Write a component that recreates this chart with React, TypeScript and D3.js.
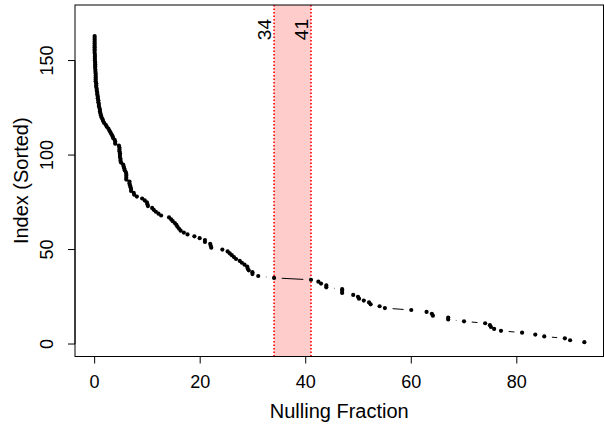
import React from "react";
import * as d3 from "d3";

// Nulling fraction (%) for each source, ordered by sorted index 1..N
const nullingFraction: number[] = [
  92.8, 90.1, 89.1, 85.2, 83.5, 81.0, 77.0, 75.7, 75.1, 74.9,
  74.0, 70.0, 67.0, 67.0, 64.1, 63.9, 62.9, 60.0, 55.0, 54.0,
  52.3, 52.0, 51.0, 50.1, 49.9, 49.0, 46.9, 46.9, 46.9, 43.9,
  43.9, 42.9, 42.4, 41.0, 34.0, 31.0, 29.9, 29.9, 29.2, 29.0,
  28.9, 28.4, 27.9, 27.5, 26.8, 26.4, 26.0, 25.6, 25.2, 24.2,
  22.1, 22.0, 21.9, 20.9, 20.9, 19.9, 18.9, 17.6, 16.9, 16.3,
  16.0, 15.7, 15.5, 15.2, 14.8, 14.5, 14.1, 12.6, 12.1, 11.6,
  11.2, 10.9, 10.1, 10.0, 9.9, 9.5, 9.0, 8.0, 7.5, 7.4,
  6.9, 6.9, 6.8, 6.7, 6.6, 6.6, 6.0, 6.0, 6.0, 6.0,
  5.9, 5.7, 5.6, 5.5, 5.4, 5.0, 4.9, 4.9, 4.8, 4.8,
  4.8, 4.7, 4.7, 4.7, 4.6, 3.9, 3.9, 3.8, 3.5, 3.4,
  3.2, 3.0, 2.8, 2.6, 2.3, 2.1, 1.8, 1.6, 1.5, 1.3,
  1.2, 1.1, 1.0, 1.0, 0.9, 0.8, 0.8, 0.7, 0.7, 0.6,
  0.6, 0.5, 0.5, 0.4, 0.4, 0.3, 0.3, 0.3, 0.2, 0.2,
  0.2, 0.2, 0.2, 0.15, 0.15, 0.1, 0.1, 0.1, 0.1, 0.05,
  0.05, 0.05, 0.05, 0.0, 0.0, 0.0, 0.0, 0.0, 0.0, 0.0,
  0.0, 0.0, 0.0,
];

const xTicks = [0, 20, 40, 60, 80];
const yTicks = [0, 50, 100, 150];
const bandBounds = [34, 41];

const xLabel = "Nulling Fraction";
const yLabel = "Index (Sorted)";

const W = 604;
const H = 424;
const FONT = "'Liberation Sans', Arial, Helvetica, sans-serif";

export default function App() {
  const left = 75;
  const right = 603.5;
  const top = 5;
  const bottom = 356.5;

  const x = d3.scaleLinear().domain([-3.72, 96.52]).range([left, right + 0.5]);
  const y = d3.scaleLinear().domain([-6.6, 179.4]).range([bottom, top]);

  const pts = nullingFraction.map((v, i) => ({ px: x(v), py: y(i + 1) }));

  const gap = 7.7;
  const segs: { x1: number; y1: number; x2: number; y2: number }[] = [];
  for (let i = 0; i < pts.length - 1; i++) {
    const a = pts[i];
    const b = pts[i + 1];
    const dx = b.px - a.px;
    const dy = b.py - a.py;
    const d = Math.hypot(dx, dy);
    if (d > 2 * gap) {
      const ux = dx / d;
      const uy = dy / d;
      segs.push({
        x1: a.px + ux * gap,
        y1: a.py + uy * gap,
        x2: b.px - ux * gap,
        y2: b.py - uy * gap,
      });
    }
  }

  const [b0, b1] = bandBounds;

  return (
    <svg
      width={W}
      height={H}
      style={{ position: "absolute", left: 0, top: 0, background: "#fff" }}
      fontFamily={FONT}
    >
      <rect x={0} y={0} width={W} height={H} fill="#fff" />
      {/* shaded band */}
      <rect
        x={x(b0)}
        y={top}
        width={x(b1) - x(b0)}
        height={bottom - top}
        fill="#FFCCCC"
      />
      {bandBounds.map((b) => (
        <line
          key={"v" + b}
          x1={x(b)}
          x2={x(b)}
          y1={top}
          y2={bottom}
          stroke="#ff0000"
          strokeWidth={1.6}
          strokeDasharray="1.5,2"
        />
      ))}
      {bandBounds.map((b) => (
        <text
          key={"t" + b}
          transform={`translate(${x(b) - 3},${top + 14}) rotate(-90)`}
          textAnchor="end"
          fontSize={19}
          fill="#000"
        >
          {b}
        </text>
      ))}

      {/* connecting segments (type = "b") */}
      {segs.map((s, i) => (
        <line key={"s" + i} {...s} stroke="#000" strokeWidth={1} />
      ))}
      {/* points */}
      {pts.map((p, i) => (
        <circle key={"p" + i} cx={p.px} cy={p.py} r={2.1} fill="#000" />
      ))}

      {/* box */}
      <rect
        x={left}
        y={top}
        width={right - left}
        height={bottom - top}
        fill="none"
        stroke="#000"
        strokeWidth={1}
      />

      {/* x axis */}
      <line
        x1={x(xTicks[0])}
        x2={x(xTicks[xTicks.length - 1])}
        y1={bottom}
        y2={bottom}
        stroke="#000"
      />
      {xTicks.map((t) => (
        <g key={"xt" + t}>
          <line x1={x(t)} x2={x(t)} y1={bottom} y2={bottom + 7} stroke="#000" />
          <text x={x(t)} y={388} textAnchor="middle" fontSize={18}>
            {t}
          </text>
        </g>
      ))}
      <text x={(left + right) / 2} y={418} textAnchor="middle" fontSize={20}>
        {xLabel}
      </text>

      {/* y axis */}
      <line
        x1={left}
        x2={left}
        y1={y(yTicks[0])}
        y2={y(yTicks[yTicks.length - 1])}
        stroke="#000"
      />
      {yTicks.map((t) => (
        <g key={"yt" + t}>
          <line x1={left - 7} x2={left} y1={y(t)} y2={y(t)} stroke="#000" />
          <text
            transform={`translate(53,${y(t)}) rotate(-90)`}
            textAnchor="middle"
            fontSize={18}
          >
            {t}
          </text>
        </g>
      ))}
      <text
        transform={`translate(28,${(top + bottom) / 2}) rotate(-90)`}
        textAnchor="middle"
        fontSize={20}
      >
        {yLabel}
      </text>
    </svg>
  );
}
